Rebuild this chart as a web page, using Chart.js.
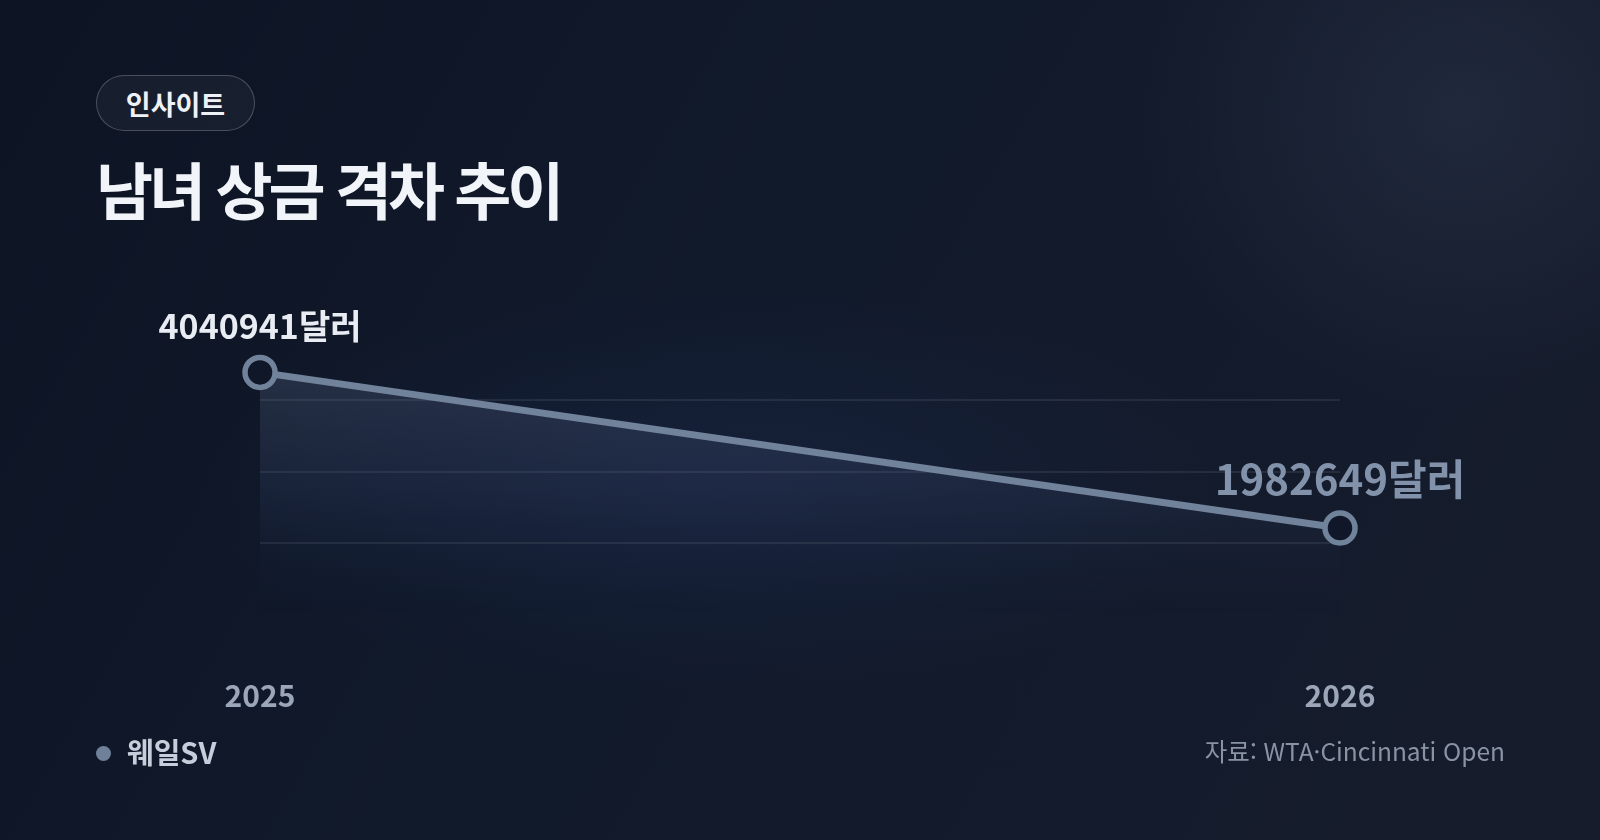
<!DOCTYPE html>
<html lang="ko">
<head>
<meta charset="utf-8">
<script src="https://cdn.jsdelivr.net/npm/chart.js@4.4.0/dist/chart.umd.min.js"></script>
<style>
  html, body { margin: 0; padding: 0; }
  body {
    width: 1600px; height: 840px; overflow: hidden; position: relative;
    font-family: "Noto Sans CJK KR", "Noto Sans", sans-serif;
    background:
      radial-gradient(ellipse 320px 300px at 1460px 110px, rgba(42,52,72,0.55), rgba(42,52,72,0) 100%),
      radial-gradient(ellipse 520px 200px at 720px 490px, rgba(32,48,92,0.3), rgba(32,48,92,0) 100%),
      linear-gradient(120deg, #0d1424 0%, #111a2b 45%, #161c2c 100%);
  }
  .pill {
    position: absolute; left: 96px; top: 75px; width: 157px; height: 54px;
    border: 1px solid rgba(255,255,255,0.22); border-radius: 28px;
    background: rgba(255,255,255,0.04);
    color: #eef1f6; font-weight: 700; font-size: 27px;
    display: flex; align-items: center; justify-content: center;
  }
  h1 {
    position: absolute; left: 96px; top: 151px; margin: 0;
    color: #f1f4f8; font-weight: 700; font-size: 62px; line-height: 1.2;
    letter-spacing: -4px;
  }
  .legend {
    position: absolute; left: 96px; top: 731px; height: 40px;
    display: flex; align-items: center; color: #c6cedb; font-weight: 700; font-size: 29px;
  }
  .legend i { width: 15px; height: 15px; border-radius: 50%; background: #6f8099; margin-right: 16px; margin-top: 4px; display: inline-block; }
  .source {
    position: absolute; right: 95px; top: 730px; height: 40px;
    display: flex; align-items: center; color: #8893a4; font-size: 24.5px;
  }
  #wrap { position: absolute; left: 0; top: 0; width: 1600px; height: 840px; }
</style>
</head>
<body>
<div class="pill">인사이트</div>
<h1>남녀 상금 격차 추이</h1>
<div id="wrap"><canvas id="myChart"></canvas></div>
<div class="legend"><i></i>웨일SV</div>
<div class="source">자료: WTA·Cincinnati Open</div>
<script>
const years = ['2025', '2026'];
const prizeGap = [4040941, 1982649];
const seriesName = '웨일SV';
const unit = '달러';

const lineColor = '#71829b';

const pointLabels = {
  id: 'pointLabels',
  afterDatasetsDraw(chart) {
    const ctx = chart.ctx;
    const meta = chart.getDatasetMeta(0);
    meta.data.forEach((pt, i) => {
      const last = i === meta.data.length - 1;
      ctx.save();
      ctx.font = `700 ${last ? 42 : 34}px "Noto Sans CJK KR"`;
      ctx.fillStyle = last ? '#8292aa' : '#e9edf3';
      ctx.textAlign = 'center';
      ctx.textBaseline = 'alphabetic';
      ctx.fillText(prizeGap[i] + unit, pt.x, pt.y - (last ? 33 : 33));
      ctx.restore();
    });
  }
};

const ctx = document.getElementById('myChart').getContext('2d');
new Chart(ctx, {
  type: 'line',
  data: {
    labels: years,
    datasets: [{
      label: seriesName,
      data: prizeGap,
      borderColor: lineColor,
      borderWidth: 7,
      pointRadius: 15,
      pointHoverRadius: 15,
      pointBorderWidth: 5.5,
      pointBorderColor: lineColor,
      pointBackgroundColor: '#101728',
      fill: 'start',
      backgroundColor: (c) => {
        const a = c.chart.chartArea;
        if (!a) return 'rgba(0,0,0,0)';
        const g = c.chart.ctx.createLinearGradient(0, a.top, 0, a.bottom);
        g.addColorStop(0, 'rgba(130,145,175,0.26)');
        g.addColorStop(0.55, 'rgba(75,92,135,0.16)');
        g.addColorStop(1, 'rgba(30,45,80,0)');
        return g;
      },
      tension: 0
    }]
  },
  options: {
    responsive: true,
    maintainAspectRatio: false,
    animation: false,
    layout: { padding: { left: 260, right: 260, top: 329, bottom: 126 } },
    plugins: { legend: { display: false }, tooltip: { enabled: false } },
    scales: {
      x: {
        offset: false,
        grid: { display: false, drawTicks: false },
        border: { display: false },
        afterFit: (s) => { s.height = 100; },
        ticks: {
          color: '#9ba6b8',
          padding: 64,
          maxRotation: 0,
          font: { family: 'Noto Sans CJK KR', size: 30, weight: '700' }
        }
      },
      y: {
        min: 845000,
        max: 4615000,
        border: { display: false },
        grid: {
          drawTicks: false,
          lineWidth: 2,
          color: (c) => (c.index === 0 || c.index === 4) ? 'rgba(0,0,0,0)' : 'rgba(255,255,255,0.08)'
        },
        ticks: { display: false, stepSize: 942500 }
      }
    }
  },
  plugins: [pointLabels]
});
</script>
</body>
</html>
